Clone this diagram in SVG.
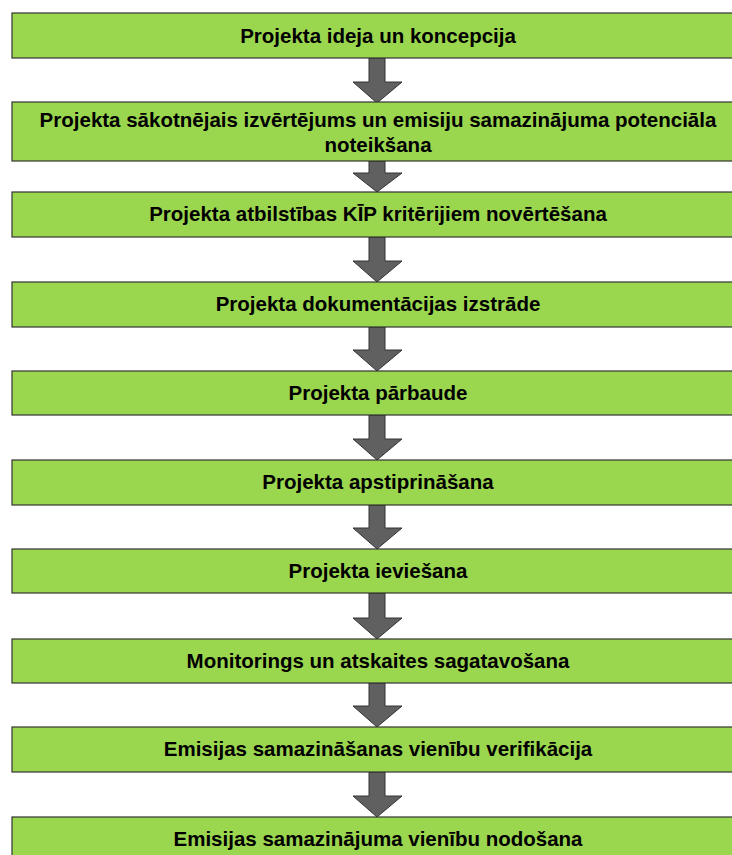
<svg xmlns="http://www.w3.org/2000/svg" width="732" height="855" viewBox="0 0 732 855">
<style>
.box{fill:#9BD64F;stroke:#333;stroke-width:1.2}
.t{font-family:"Liberation Sans",Arial,sans-serif;font-weight:bold;font-size:20.5px;fill:#000;text-anchor:middle}
.arr{fill:#606060;stroke:#333;stroke-width:1}
</style>
<rect width="732" height="855" fill="#fff"/>
<g id="connectors">
<polygon class="arr" points="369,58 385,58 385,82 402,82 377,103 353,82 369,82"/>
<polygon class="arr" points="369,161 385,161 385,173 402,173 377,192 353,173 369,173"/>
<polygon class="arr" points="369,237 385,237 385,261 402,261 377,282 353,261 369,261"/>
<polygon class="arr" points="369,327 385,327 385,350 402,350 377,371 353,350 369,350"/>
<polygon class="arr" points="369,415 385,415 385,439 402,439 377,460 353,439 369,439"/>
<polygon class="arr" points="369,505 385,505 385,528 402,528 377,549 353,528 369,528"/>
<polygon class="arr" points="369,593 385,593 385,618 402,618 377,639 353,618 369,618"/>
<polygon class="arr" points="369,683 385,683 385,706 402,706 377,727 353,706 369,706"/>
<polygon class="arr" points="369,772 385,772 385,796 402,796 377,817 353,796 369,796"/>
</g>
<g id="n1"><rect class="box" x="12" y="13" width="734" height="45"/><text class="t" x="378" y="43">Projekta ideja un koncepcija</text></g>
<g id="n2"><rect class="box" x="12" y="102" width="734" height="59"/><text class="t" x="378" y="127">Projekta sākotnējais izvērtējums un emisiju samazinājuma potenciāla</text><text class="t" x="378" y="152">noteikšana</text></g>
<g id="n3"><rect class="box" x="12" y="192" width="734" height="45"/><text class="t" x="378" y="221">Projekta atbilstības KĪP kritērijiem novērtēšana</text></g>
<g id="n4"><rect class="box" x="12" y="282" width="734" height="45"/><text class="t" x="378" y="311">Projekta dokumentācijas izstrāde</text></g>
<g id="n5"><rect class="box" x="12" y="371" width="734" height="44"/><text class="t" x="378" y="400">Projekta pārbaude</text></g>
<g id="n6"><rect class="box" x="12" y="460" width="734" height="45"/><text class="t" x="378" y="489">Projekta apstiprināšana</text></g>
<g id="n7"><rect class="box" x="12" y="549" width="734" height="44"/><text class="t" x="378" y="578">Projekta ieviešana</text></g>
<g id="n8"><rect class="box" x="12" y="639" width="734" height="44"/><text class="t" x="378" y="668">Monitorings un atskaites sagatavošana</text></g>
<g id="n9"><rect class="box" x="12" y="727" width="734" height="45"/><text class="t" x="378" y="756">Emisijas samazināšanas vienību verifikācija</text></g>
<g id="n10"><rect class="box" x="12" y="817" width="734" height="50"/><text class="t" x="378" y="846">Emisijas samazinājuma vienību nodošana</text></g>
</svg>
